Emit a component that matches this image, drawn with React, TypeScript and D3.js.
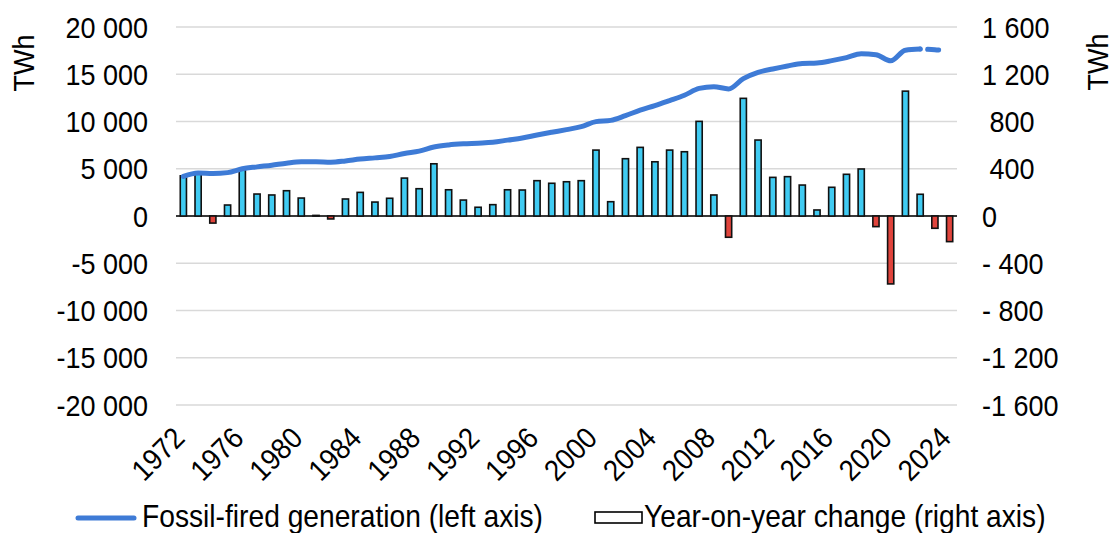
import React from "react";
import * as d3 from "d3";

const years: number[] = d3.range(1972, 2025);

const yoyChange: number[] = [
  340, 360, -60, 93, 390, 186, 178, 214, 152, 5,
  -25, 144, 200, 118, 150, 321, 231, 442, 222, 135,
  74, 96, 222, 220, 299, 277, 290, 299, 558, 121,
  485, 581, 459, 558, 544, 801, 178, -180, 996, 643,
  327, 333, 262, 51, 243, 353, 398, -90, -575, 1057,
  184, -104, -217,
];

const fossilGen: number[] = [
  4200, 4560, 4500, 4590, 5000, 5200, 5380, 5590, 5740, 5745,
  5700, 5830, 6020, 6150, 6290, 6620, 6860, 7300, 7520, 7640,
  7710, 7800, 8030, 8260, 8570, 8860, 9140, 9450, 9990, 10120,
  10620, 11200, 11680, 12220, 12780, 13500, 13680, 13450, 14530, 15200,
  15560, 15880, 16150, 16200, 16440, 16760, 17160, 17070, 16420, 17540,
  17660, 17600, 17450,
];

const leftTicks: number[] = [20000, 15000, 10000, 5000, 0, -5000, -10000, -15000, -20000];
const leftTickLabels: string[] = ["20 000", "15 000", "10 000", "5 000", "0", "-5 000", "-10 000", "-15 000", "-20 000"];
const rightTicks: number[] = [1600, 1200, 800, 400, 0, -400, -800, -1200, -1600];
const rightTickLabels: string[] = ["1 600", "1 200", " 800", " 400", "0", "- 400", "- 800", "-1 200", "-1 600"];
const xTickYears: number[] = d3.range(1972, 2025, 4);
const dashedFrom = 2022;

const seriesLineName = "Fossil-fired generation (left axis)";
const seriesBarName = "Year-on-year change (right axis)";
const unitLabel = "TWh";

const W = 1113;
const H = 533;
const M = { left: 176, right: 957, top: 27, bottom: 405 };
const FONT = "'Liberation Sans', Arial, sans-serif";
const FS = 27;
const LFS = 28.2;
const SY = 1.1;
const BLUE = "#3E7BD6";
const CYAN = "#40CBF2";
const RED = "#E0443C";

export default function App() {
  const x = d3.scaleBand<number>().domain(years).range([M.left, M.right]).paddingInner(0.58).paddingOuter(0.29);
  const yL = d3.scaleLinear().domain([-20000, 20000]).range([M.bottom, M.top]);
  const yR = d3.scaleLinear().domain([-1600, 1600]).range([M.bottom, M.top]);
  const bw = x.bandwidth();
  const cx = (yr: number) => (x(yr) as number) + bw / 2;

  const solidPts = years.map((yr, i) => ({ yr, v: fossilGen[i] })).filter((d) => d.yr <= dashedFrom);
  const dashPts = years.map((yr, i) => ({ yr, v: fossilGen[i] })).filter((d) => d.yr >= dashedFrom);
  const line = d3
    .line<{ yr: number; v: number }>()
    .x((d) => cx(d.yr))
    .y((d) => yL(d.v))
    .curve(d3.curveMonotoneX);

  const textStyle: React.CSSProperties = { fontFamily: FONT, fontSize: FS, fill: "#000", whiteSpace: "pre" };
  const legendStyle: React.CSSProperties = { ...textStyle, fontSize: LFS };

  return (
    <svg width={W} height={H} style={{ position: "absolute", left: 0, top: 0, background: "#fff" }}>
      {leftTicks.map((t) => (
        <line key={"g" + t} x1={M.left} x2={M.right} y1={yL(t)} y2={yL(t)} stroke="#d9d9d9" strokeWidth={1.4} />
      ))}
      <line x1={M.left} x2={M.right} y1={yL(0)} y2={yL(0)} stroke="#000" strokeWidth={1.6} />

      {years.map((yr, i) => {
        const v = yoyChange[i];
        const y0 = yR(0);
        const y1 = yR(v);
        return (
          <rect
            key={"b" + yr}
            x={x(yr)}
            y={Math.min(y0, y1)}
            width={bw}
            height={Math.abs(y1 - y0)}
            fill={v >= 0 ? CYAN : RED}
            stroke="#111"
            strokeWidth={1.6}
          />
        );
      })}

      <path d={line(solidPts) || ""} fill="none" stroke={BLUE} strokeWidth={5} strokeLinecap="round" strokeLinejoin="round" />
      <path
        d={line(dashPts) || ""}
        fill="none"
        stroke={BLUE}
        strokeWidth={5}
        strokeLinecap="round"
        strokeDasharray="0 7.5 11 60"
      />

      {leftTicks.map((t, i) => (
        <text key={"l" + t} transform={`translate(148,${yL(t)}) scale(1,${SY})`} textAnchor="end" dy="0.36em" style={textStyle}>
          {leftTickLabels[i]}
        </text>
      ))}
      {rightTicks.map((t, i) => (
        <text key={"r" + t} transform={`translate(982,${yR(t)}) scale(1,${SY})`} textAnchor="start" dy="0.36em" style={textStyle} xmlSpace="preserve">
          {rightTickLabels[i]}
        </text>
      ))}
      <text transform={`translate(23,63) rotate(-90) scale(1,${SY})`} textAnchor="middle" dy="0.36em" style={textStyle}>
        {unitLabel}
      </text>
      <text transform={`translate(1097,62) rotate(-90) scale(1,${SY})`} textAnchor="middle" dy="0.36em" style={textStyle}>
        {unitLabel}
      </text>

      {xTickYears.map((yr) => (
        <text key={"x" + yr} transform={`translate(${cx(yr) + 3},440) rotate(-45) scale(1,${SY})`} textAnchor="end" style={textStyle}>
          {yr}
        </text>
      ))}

      <line x1={78} x2={134} y1={518} y2={518} stroke={BLUE} strokeWidth={5} strokeLinecap="round" />
      <text transform={`translate(142,527) scale(1,${SY})`} style={legendStyle}>
        {seriesLineName}
      </text>
      <rect x={595} y={512} width={47} height={11} fill="#fff" stroke="#000" strokeWidth={1.6} />
      <text transform={`translate(644,527) scale(1,${SY})`} style={legendStyle}>
        {seriesBarName}
      </text>
    </svg>
  );
}
